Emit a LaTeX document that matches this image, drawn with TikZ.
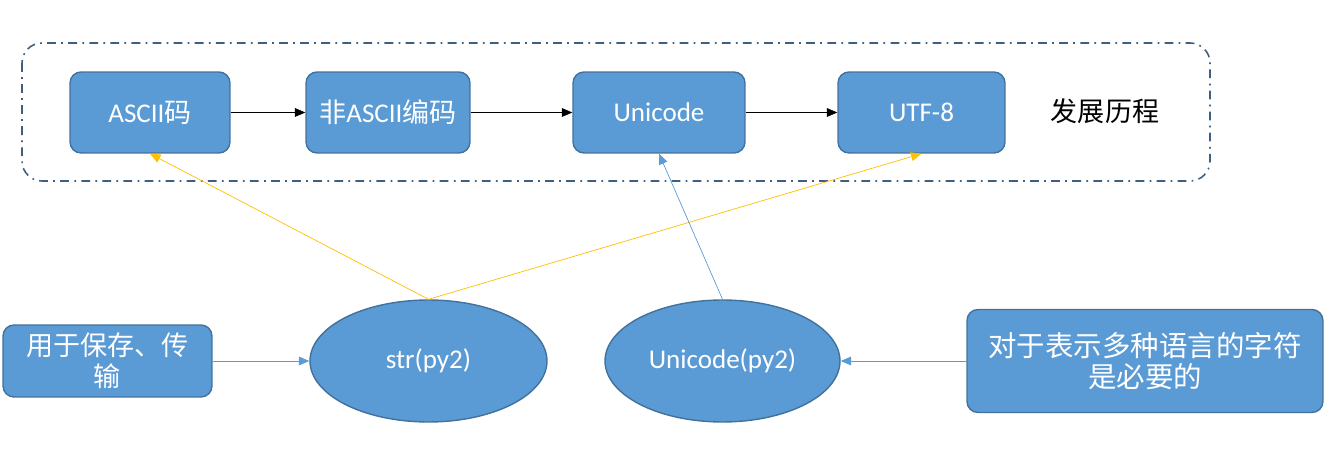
\documentclass[tikz,border=0pt]{standalone}
\usepackage{fontspec}
\setmainfont{Carlito}
\newfontfamily\cjk{Noto Sans CJK SC}
\usetikzlibrary{arrows.meta,shapes.geometric}

\definecolor{boxfill}{HTML}{5B9BD5}
\definecolor{boxline}{HTML}{41719C}
\definecolor{frameline}{HTML}{3F5F80}
\definecolor{linkyellow}{HTML}{FFC000}

\tikzset{
  stage/.style={draw=boxline, fill=boxfill, thick, rounded corners=0.22cm, text=white,
    minimum height=1.62cm, font=\fontsize{15.4}{18}\selectfont},
  kind/.style={draw=boxline, fill=boxfill, thick, ellipse, text=white,
    minimum width=4.74cm, minimum height=2.44cm, font=\fontsize{15.4}{18}\selectfont},
  note/.style={draw=boxline, fill=boxfill, thick, rounded corners=0.22cm, text=white,
    align=center, font=\cjk\fontsize{15.4}{17.5}\selectfont},
  nextstep/.style={-{Triangle[length=6pt,width=5pt]}, black},
  usedby/.style={-{Triangle[length=6pt,width=5pt]}, linkyellow},
  thinlink/.style={-{Triangle[length=6pt,width=5pt]}, boxfill}
}

\begin{document}
\begin{tikzpicture}[x=0.02cm, y=-0.02cm]
\useasboundingbox (0,0) rectangle (1340,452);

% rahmen
\draw[frameline, line width=0.9pt, rounded corners=0.4cm, dash pattern=on 5pt off 3pt on 1pt off 3pt]
  (22,43) rectangle (1210,181);

% entwicklung
\node[stage, minimum width=3.2cm] (ascii) at (150,112.5) {ASCII{\cjk 码}};
\node[stage, minimum width=3.28cm] (nonascii) at (388,112.5) {{\cjk 非}ASCII{\cjk 编码}};
\node[stage, minimum width=3.44cm] (uni) at (659,112.5) {Unicode};
\node[stage, minimum width=3.34cm] (utf) at (921.5,112.5) {UTF-8};
\node[font=\cjk\fontsize{15.4}{18}\selectfont] (history) at (1105,111) {发展历程};

\draw[nextstep] (ascii) -- (nonascii);
\draw[nextstep] (nonascii) -- (uni);
\draw[nextstep] (uni) -- (utf);

% python 2 typen
\node[kind] (str) at (428.5,361) {str(py2)};
\node[kind, minimum width=4.7cm] (unipy) at (722.5,361) {Unicode(py2)};

\node[note, minimum width=4.18cm, minimum height=1.44cm] (store) at (107.5,361)
  {用于保存、传\\输};
\node[note, minimum width=7.12cm, minimum height=2.06cm, font=\cjk\fontsize{16.2}{18}\selectfont] (multi) at (1145,361)
  {对于表示多种语言的字符\\是必要的};

\draw[thinlink] (store) -- (str);
\draw[thinlink] (multi) -- (unipy);
\draw[usedby] (str.north) -- (ascii.south);
\draw[usedby] (str.north) -- (utf.south);
\draw[thinlink] (unipy.north) -- (uni.south);

\end{tikzpicture}
\end{document}
